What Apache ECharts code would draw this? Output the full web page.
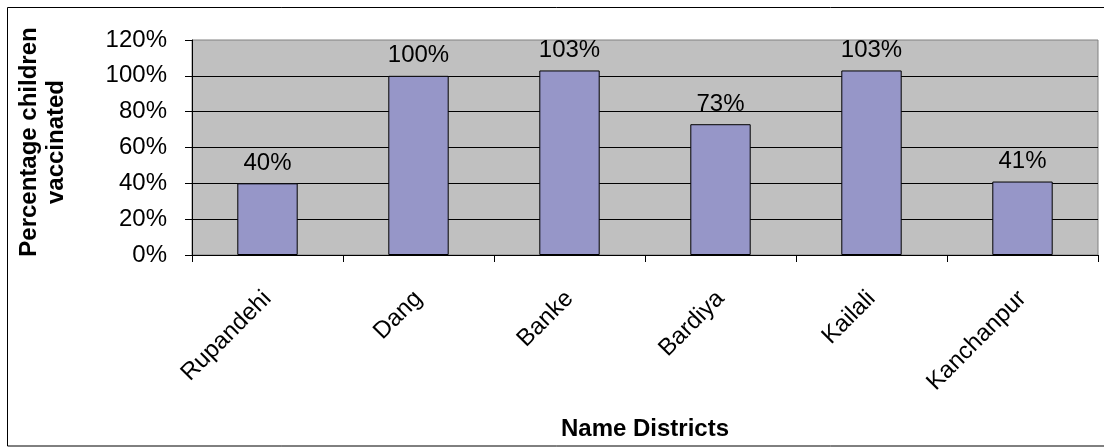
<!DOCTYPE html>
<html>
<head>
<meta charset="utf-8">
<script src="https://cdn.jsdelivr.net/npm/echarts@6/dist/echarts.min.js"></script>
<style>html,body{margin:0;padding:0;background:#fff}#c{width:1104px;height:448px}</style>
</head>
<body>
<div id="c"></div>
<script>
const categories = ['Rupandehi', 'Dang', 'Banke', 'Bardiya', 'Kailali', 'Kanchanpur'];
const values = [40, 100, 103, 73, 103, 41];
const yTicks = [0, 20, 40, 60, 80, 100, 120];

const chart = echarts.init(document.getElementById('c'), null, {renderer: 'canvas'});
const font = 'Liberation Sans, Arial, sans-serif';
chart.setOption({
  backgroundColor: '#fff',
  animation: false,
  graphic: [
    {type: 'rect', shape: {x: 7.5, y: 7.5, width: 1110, height: 438.5}, style: {fill: 'none', stroke: '#000', lineWidth: 1}, z: -1},
    {type: 'text', x: 43, y: 142, rotation: Math.PI / 2, style: {
      text: 'Percentage children\nvaccinated', font: 'bold 24px ' + font, fill: '#000',
      align: 'center', verticalAlign: 'middle', lineHeight: 27
    }}
  ],
  grid: {left: 192, top: 40, right: 6, bottom: 193, show: true, backgroundColor: '#c0c0c0', borderColor: '#808080', borderWidth: 1},
  xAxis: {
    type: 'category', data: categories,
    name: 'Name Districts', nameLocation: 'middle', nameGap: 162,
    nameTextStyle: {fontFamily: font, fontWeight: 'bold', fontSize: 24, color: '#000'},
    axisLine: {lineStyle: {color: '#000', width: 1}},
    axisTick: {show: true, alignWithLabel: false, length: 7, lineStyle: {color: '#000'}},
    axisLabel: {rotate: 45, fontFamily: font, fontSize: 24, color: '#000', margin: 40, interval: 0}
  },
  yAxis: {
    type: 'value', min: 0, max: 120, interval: 20,
    axisLine: {show: true, lineStyle: {color: '#000', width: 1}},
    axisTick: {show: true, length: 7, lineStyle: {color: '#000'}},
    axisLabel: {fontFamily: font, fontSize: 24, color: '#000', margin: 25,
      formatter: v => yTicks.includes(v) ? v + '%' : ''},
    splitLine: {show: true, showMaxLine: false, lineStyle: {color: '#000', width: 1}}
  },
  series: [{
    type: 'bar', data: values, barCategoryGap: '60%',
    itemStyle: {color: '#9696c8', borderColor: '#000', borderWidth: 1},
    label: {show: true, position: 'top', distance: 8, fontFamily: font, fontSize: 24, color: '#000', formatter: p => p.value + '%'}
  }]
});
</script>
</body>
</html>
